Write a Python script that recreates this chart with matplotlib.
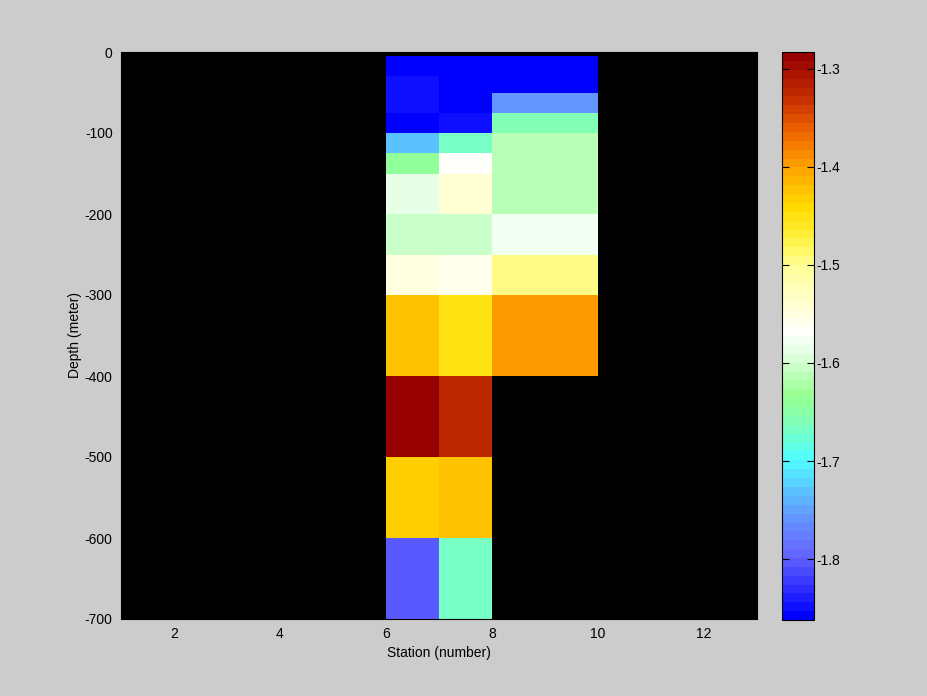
import numpy as np
import matplotlib
matplotlib.use("Agg")
import matplotlib.pyplot as plt
from matplotlib.colors import LinearSegmentedColormap

plt.rcParams['font.family'] = ['Liberation Sans', 'DejaVu Sans']
plt.rcParams['font.size'] = 10
plt.rcParams['axes.unicode_minus'] = False

# station / depth cell edges
station_edges = [6, 7, 8, 10]
depth_edges = [-5, -30, -50, -75, -100, -125, -150, -200, -250, -300, -400, -500, -600, -700]

# values per station column, top to bottom
col_6 = [-1.86, -1.85, -1.85, -1.86, -1.73, -1.64, -1.59, -1.60, -1.55, -1.42, -1.285, -1.43, -1.80]
col_7 = [-1.86, -1.86, -1.86, -1.85, -1.67, -1.565, -1.54, -1.60, -1.56, -1.45, -1.32, -1.42, -1.67]
col_8 = [-1.86, -1.86, -1.76, -1.66, -1.615, -1.615, -1.615, -1.58, -1.50, -1.40, np.nan, np.nan, np.nan]

vmin, vmax = -1.862, -1.283
cb_ticks = [-1.8, -1.7, -1.6, -1.5, -1.4, -1.3]
x_ticks = [2, 4, 6, 8, 10, 12]
y_ticks = [0, -100, -200, -300, -400, -500, -600, -700]

# custom colormap
anchors = [
    (0.0, (0, 0, 255)),
    (0.107, (100, 100, 255)),
    (0.176, (100, 150, 255)),
    (0.228, (90, 200, 255)),
    (0.280, (80, 255, 255)),
    (0.349, (130, 255, 180)),
    (0.392, (150, 255, 145)),
    (0.453, (210, 255, 210)),
    (0.504, (255, 255, 255)),
    (0.539, (255, 255, 225)),
    (0.625, (255, 255, 150)),
    (0.677, (255, 240, 60)),
    (0.729, (255, 220, 0)),
    (0.798, (255, 165, 0)),
    (0.867, (240, 100, 0)),
    (0.919, (200, 50, 0)),
    (1.0, (150, 0, 0)),
]
cmap = LinearSegmentedColormap.from_list(
    "depthmap", [(p, tuple(c / 255 for c in rgb)) for p, rgb in anchors], N=64)

Z = np.ma.masked_invalid(np.array([col_6, col_7, col_8]).T)

fig = plt.figure(figsize=(9.28, 6.96), dpi=100, facecolor="#cccccc")
ax = fig.add_axes([121 / 928, 77 / 696, 636 / 928, 567 / 696])
ax.set_facecolor("black")
mesh = ax.pcolormesh(station_edges, depth_edges, Z, cmap=cmap, vmin=vmin, vmax=vmax)
ax.set_xlim(1, 13)
ax.set_ylim(-700, 0)
ax.set_xticks(x_ticks)
ax.set_yticks(y_ticks)
ax.tick_params(direction="in", length=0, pad=6)
ax.set_xlabel("Station (number)", labelpad=3)
ax.set_ylabel("Depth (meter)", labelpad=2)

cax = fig.add_axes([782 / 928, 76 / 696, 32 / 928, 568 / 696])
cb = fig.colorbar(mesh, cax=cax, ticks=cb_ticks)
cb.outline.set_edgecolor("black")
cax.tick_params(direction="in", length=5, left=True, right=True, color="black", pad=2)
cax.set_yticklabels(["-1.8", "-1.7", "-1.6", "-1.5", "-1.4", "-1.3"])

fig.savefig("out.png", dpi=100, facecolor=fig.get_facecolor())
